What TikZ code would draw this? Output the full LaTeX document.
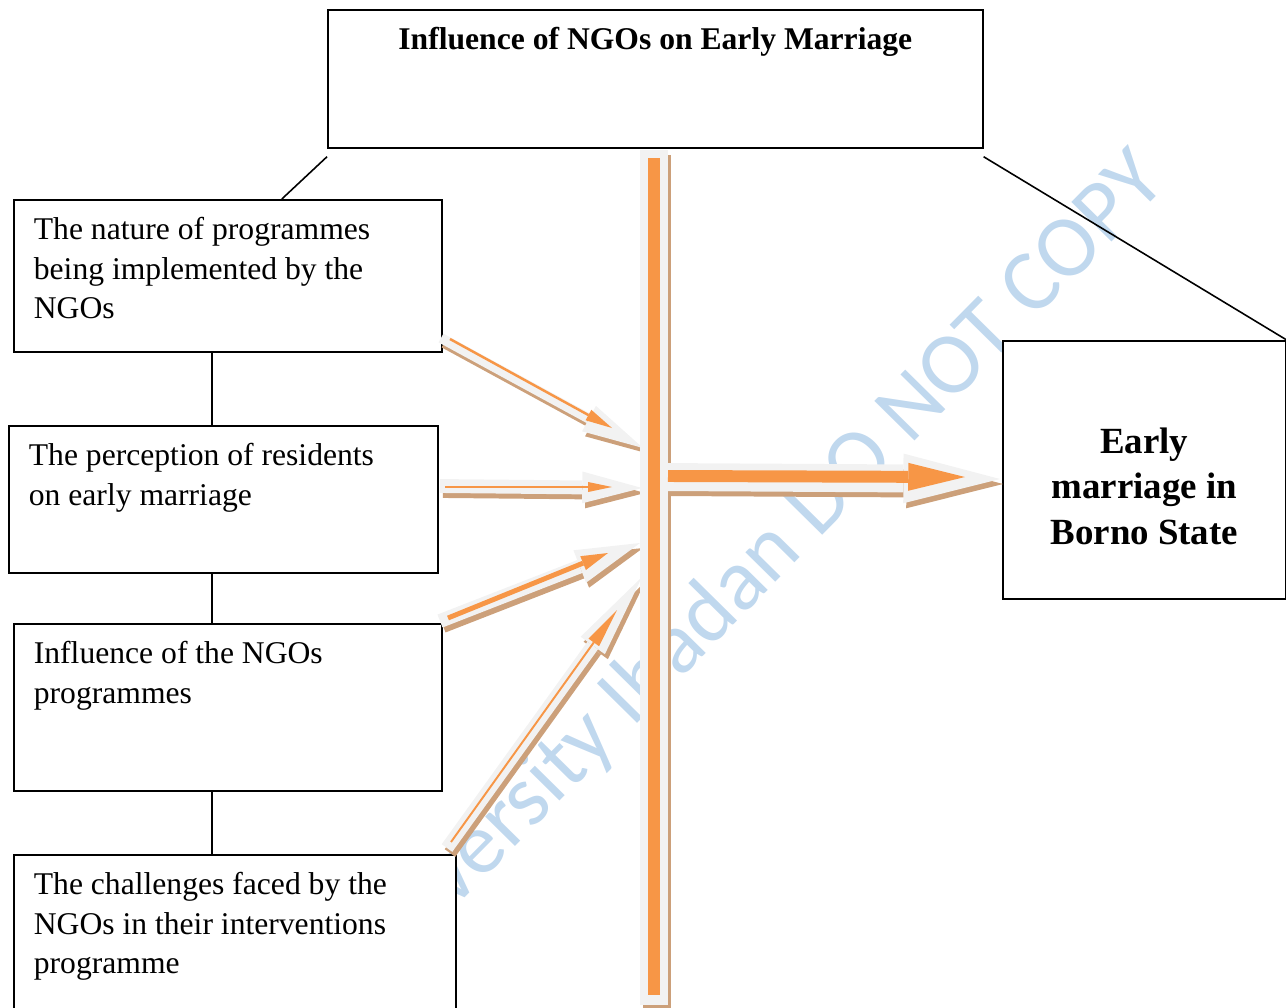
\documentclass[tikz,border=0pt]{standalone}
\usepackage{fontspec}
\setmainfont{Liberation Serif}
\newfontfamily\markfont{Carlito}
\usepackage{xcolor}
\usetikzlibrary{arrows.meta,positioning,calc}
\definecolor{ngoorange}{RGB}{247,150,70}
\definecolor{glowgray}{RGB}{242,242,242}
\definecolor{shadetan}{RGB}{204,160,122}
\definecolor{markblue}{RGB}{192,216,238}

\tikzset{
  framebox/.style={draw, line width=1pt, fill=white, anchor=north west,
    inner xsep=0.4cm, inner ysep=0.34cm, font=\fontsize{18}{22.7}\selectfont},
  link/.style={line width=0.9pt},
  glow/.style={draw=glowgray},
  core/.style={draw=ngoorange},
  shade/.style={draw=shadetan, transform canvas={shift={(3,5)}}},
}

\begin{document}
\begin{tikzpicture}[x=0.02cm, y=-0.02cm]
    \useasboundingbox (0,0) rectangle (1286,1008);

    % Watermark (behind everything)
    \node[font=\markfont\fontsize{50}{60}\selectfont, text=markblue, rotate=45.4,
        anchor=base, inner sep=0pt] (mark) at (811,547) {versity Ibadan DO NOT COPY};

    % Boxes
    \node[framebox] (topbox) at (327,9)
        {\parbox[c][2.08cm][t]{12.3cm}{\centering\bfseries Influence of NGOs on Early Marriage}};
    \node[framebox] (nature) at (13,199)
        {\parbox[c][2.36cm][t]{7.76cm}{The nature of programmes\\ being implemented by the\\ NGOs}};
    \node[framebox] (perception) at (8,425)
        {\parbox[c][2.26cm][t]{7.78cm}{The perception of residents\\ on early marriage}};
    \node[framebox] (influence) at (13,623)
        {\parbox[c][2.66cm][t]{7.76cm}{Influence of the NGOs\\ programmes}};
    \node[framebox] (challenges) at (13,854)
        {\parbox[c][2.92cm][t]{8.04cm}{The challenges faced by the\\ NGOs in their interventions\\ programme}};
    \node[framebox, inner xsep=0.4cm] (state) at (1002,340)
        {\parbox[c][4.48cm][t]{4.86cm}{\centering\fontsize{21}{25.8}\selectfont\bfseries
          \vspace*{1.4cm}Early\\ marriage in\\ Borno State}};

    % Thin connecting lines
    \coordinate (spine) at (212,0);
    \draw[link] ([shift={(0,8)}]topbox.south west) -- ([shift={(54,0)}]nature.north);
    \draw[link] ([shift={(0,8)}]topbox.south east) -- (state.north east);
    \draw[link] (spine |- nature.south) -- (spine |- perception.north);
    \draw[link] (spine |- perception.south) -- (spine |- influence.north);
    \draw[link] (spine |- influence.south) -- (spine |- challenges.north);

    % Arrow end points
    \coordinate (bartop) at (654,150);
    \coordinate (barbot) at (654,1005);
    \coordinate (a1s) at (441,338);  \coordinate (a1e) at (643,448);
    \coordinate (a2s) at (440,486);  \coordinate (a2e) at (642,488);
    \coordinate (a3s) at (440,621);  \coordinate (a3e) at (640,543);
    \coordinate (a4s) at (447,848);  \coordinate (a4e) at (642,577);
    \coordinate (a6s) at (662,477);  \coordinate (a6e) at (1000,479);

    % Shadows
    \draw[shade, line width=15.9pt] (bartop) -- (barbot);
    \draw[shade, line width=5.7pt, -{Triangle[length=35pt, width=16.5pt, line width=0pt]}] (a1s) -- (a1e);
    \draw[shade, line width=7.9pt, -{Triangle[length=34pt, width=18.1pt, line width=0pt]}] (a2s) -- (a2e);
    \draw[shade, line width=7.9pt, -{Triangle[length=36.8pt, width=19.8pt, line width=0pt]}] (a3s) -- (a3e);
    \draw[shade, line width=7.4pt, -{Triangle[length=48pt, width=17pt, line width=0pt]}] (a4s) -- (a4e);
    \draw[shade, line width=15.9pt, -{Triangle[length=55pt, width=28.3pt, line width=0pt]}] (a6s) -- (a6e);

    % Light outlines
    \draw[glow, line width=15.9pt] (bartop) -- (barbot);
    \draw[glow, line width=5.7pt, -{Triangle[length=35pt, width=16.5pt, line width=0pt]}] (a1s) -- (a1e);
    \draw[glow, line width=7.9pt, -{Triangle[length=34pt, width=18.1pt, line width=0pt]}] (a2s) -- (a2e);
    \draw[glow, line width=7.9pt, -{Triangle[length=36.8pt, width=19.8pt, line width=0pt]}] (a3s) -- (a3e);
    \draw[glow, line width=7.4pt, -{Triangle[length=48pt, width=17pt, line width=0pt]}] (a4s) -- (a4e);
    \draw[glow, line width=15.9pt, -{Triangle[length=55pt, width=28.3pt, line width=0pt]}] (a6s) -- (a6e);

    % Orange cores
    \draw[core, line width=6.8pt] ([shift={(0,8)}]bartop) -- ([shift={(0,-10)}]barbot);
    \draw[core, line width=1.4pt, -{Triangle[length=15.3pt, width=6.8pt, line width=0pt]}]
        ([shift={(9,1)}]a1s) -- ([shift={(-31,-20)}]a1e);
    \draw[core, line width=1.1pt, -{Triangle[length=13.6pt, width=5.7pt, line width=0pt]}]
        ([shift={(5,1)}]a2s) -- ([shift={(-30,-1)}]a2e);
    \draw[core, line width=2.8pt, -{Triangle[length=15.3pt, width=8.5pt, line width=0pt]}]
        ([shift={(8,-3)}]a3s) -- ([shift={(-32,10)}]a3e);
    \draw[core, line width=1.1pt, -{Triangle[length=22.7pt, width=7.4pt, line width=0pt]}]
        ([shift={(4,-6)}]a4s) -- ([shift={(-25,33)}]a4e);
    \draw[core, line width=6.8pt, -{Triangle[length=32.3pt, width=15.9pt, line width=0pt]}]
        ([shift={(6,-1)}]a6s) -- ([shift={(-35,-2)}]a6e);
\end{tikzpicture}
\end{document}
